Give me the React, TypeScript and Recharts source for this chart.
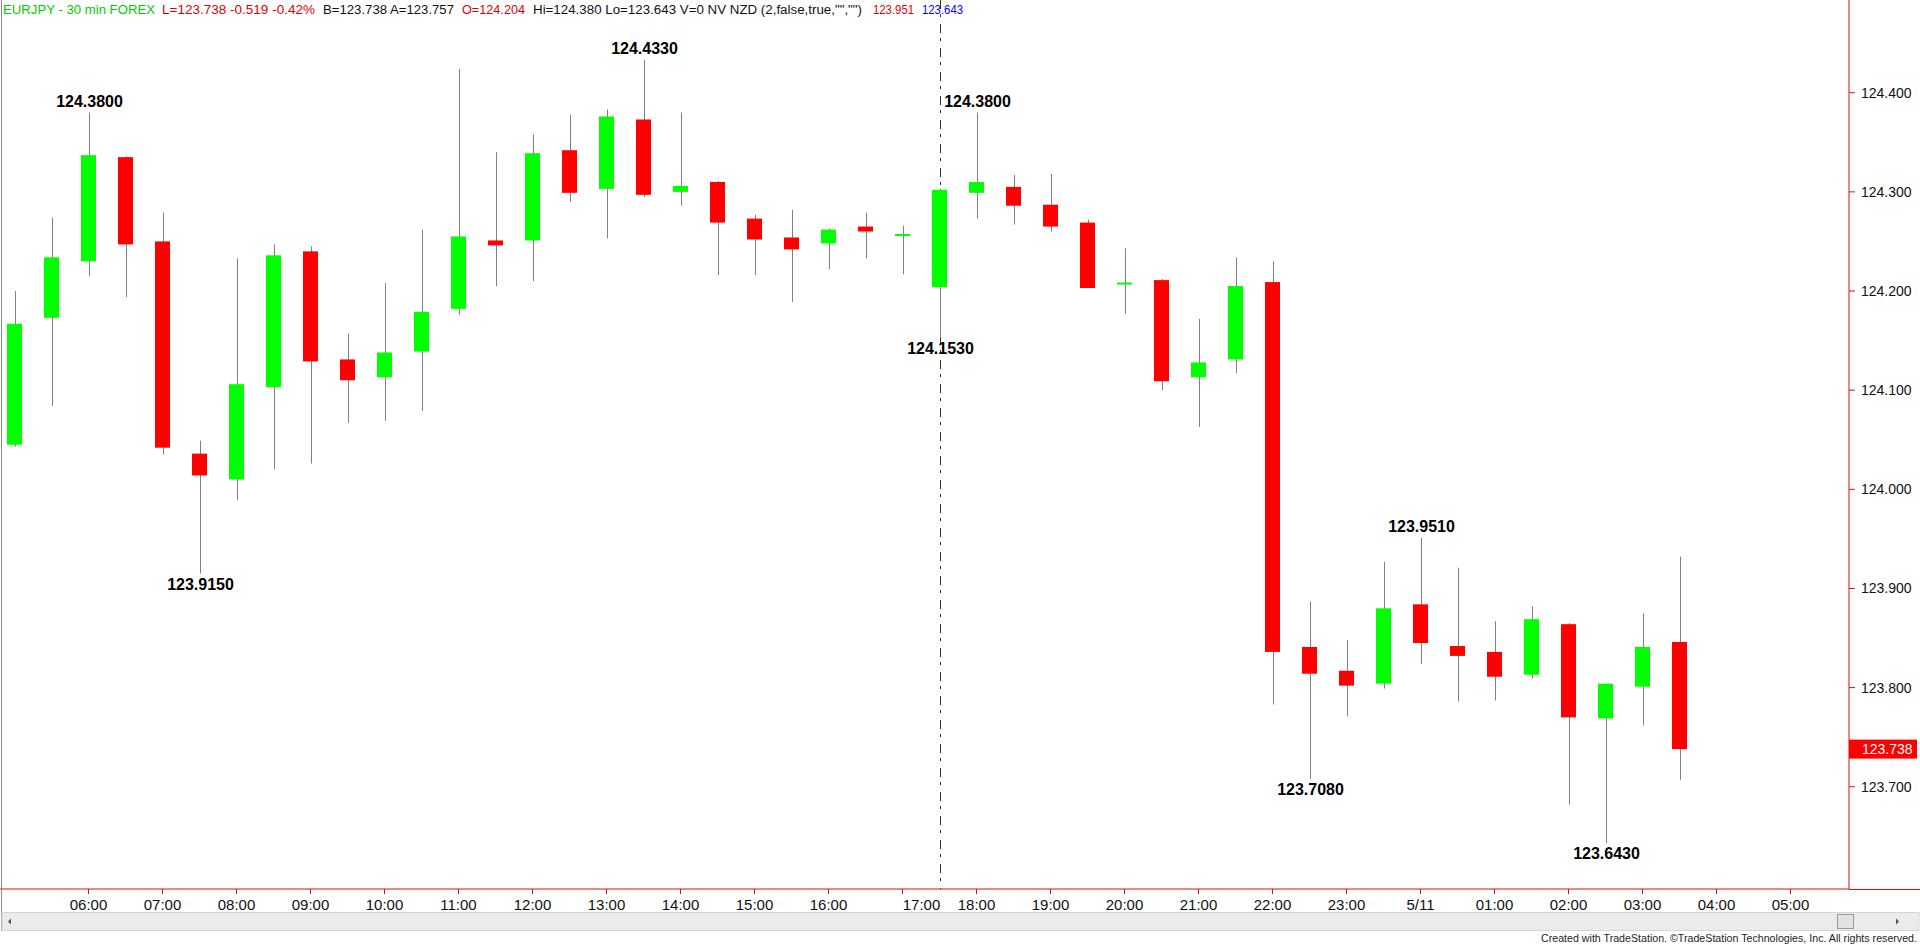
import React from "react";
import { BarChart, Bar, XAxis, YAxis } from "recharts";

// 30 min bars, EURJPY
const times = [
  "05:00", "05:30", "06:00", "06:30", "07:00", "07:30", "08:00", "08:30",
  "09:00", "09:30", "10:00", "10:30", "11:00", "11:30", "12:00", "12:30",
  "13:00", "13:30", "14:00", "14:30", "15:00", "15:30", "16:00", "16:30",
  "17:00", "17:30", "18:00", "18:30", "19:00", "19:30", "20:00", "20:30",
  "21:00", "21:30", "22:00", "22:30", "23:00", "23:30", "00:00", "00:30",
  "01:00", "01:30", "02:00", "02:30", "03:00", "03:30",
];
const opens = [
  124.045, 124.173, 124.23, 124.335, 124.25, 124.036, 124.01, 124.103,
  124.24, 124.131, 124.113, 124.139, 124.182, 124.251, 124.251, 124.342,
  124.303, 124.373, 124.3, 124.31, 124.273, 124.254, 124.248, 124.265,
  124.256, 124.204, 124.299, 124.305, 124.287, 124.269, 124.207, 124.211,
  124.113, 124.131, 124.209, 123.841, 123.817, 123.804, 123.884, 123.842,
  123.836, 123.813, 123.864, 123.769, 123.801, 123.846,
];
const highs = [
  124.2, 124.274, 124.38, 124.336, 124.279, 124.049, 124.233, 124.247,
  124.245, 124.157, 124.208, 124.262, 124.424, 124.34, 124.358, 124.378,
  124.383, 124.433, 124.38, 124.311, 124.277, 124.282, 124.263, 124.279,
  124.266, 124.303, 124.38, 124.317, 124.318, 124.272, 124.243, 124.212,
  124.172, 124.234, 124.23, 123.887, 123.848, 123.927, 123.951, 123.921,
  123.867, 123.882, 123.865, 123.804, 123.875, 123.932,
];
const lows = [
  124.043, 124.084, 124.215, 124.194, 124.035, 123.915, 123.989, 124.02,
  124.026, 124.067, 124.069, 124.079, 124.176, 124.205, 124.21, 124.29,
  124.253, 124.295, 124.286, 124.216, 124.216, 124.189, 124.222, 124.233,
  124.217, 124.153, 124.273, 124.267, 124.26, 124.203, 124.177, 124.1,
  124.063, 124.117, 123.783, 123.708, 123.771, 123.799, 123.824, 123.786,
  123.787, 123.809, 123.682, 123.643, 123.762, 123.707,
];
const closes = [
  124.167, 124.234, 124.337, 124.247, 124.042, 124.014, 124.106, 124.236,
  124.129, 124.11, 124.138, 124.179, 124.255, 124.246, 124.339, 124.299,
  124.376, 124.297, 124.306, 124.269, 124.252, 124.242, 124.262, 124.26,
  124.257, 124.302, 124.31, 124.286, 124.265, 124.203, 124.208, 124.109,
  124.128, 124.205, 123.836, 123.814, 123.802, 123.88, 123.845, 123.832,
  123.811, 123.869, 123.77, 123.804, 123.841, 123.738,
];
const futureSlots = ["04:00", "04:30", "05:00", "05:30"];

const hourLabels = [
  "06:00", "07:00", "08:00", "09:00", "10:00", "11:00", "12:00", "13:00",
  "14:00", "15:00", "16:00", "17:00", "18:00", "19:00", "20:00", "21:00",
  "22:00", "23:00", "5/11", "01:00", "02:00", "03:00", "04:00", "05:00",
];
const priceTicks = [123.7, 123.8, 123.9, 124.0, 124.1, 124.2, 124.3, 124.4];
const lastClose = 123.738;
const sessionBreakSlot = 25;

// swing highs / lows printed on the chart
const markedHighs = [2, 17, 26, 38];
const markedLows = [5, 25, 35, 43];

const UP = "#00ff00";
const DOWN = "#ff0000";
const WICK = "#808080";
const AXIS = "#d01010";
const FONT = '"Liberation Sans", Arial, Helvetica, sans-serif';
const NARROW = '"Liberation Sans Narrow", "Arial Narrow", "Liberation Sans", Arial, sans-serif';

const PLOT_TOP = 0;
const PLOT_BOTTOM = 889;

const data = [...times, ...futureSlots].map((time, i) =>
  i < times.length
    ? {
        slot: i,
        time,
        open: opens[i],
        high: highs[i],
        low: lows[i],
        close: closes[i],
        range: [lows[i], highs[i]],
      }
    : { slot: i, time }
);

const Candle = (props: any) => {
  const { x, y, width, height, payload } = props;
  if (!payload || payload.open == null || !isFinite(y) || !isFinite(height)) return <g />;
  const { open, high, low, close, slot } = payload;
  const top = Math.min(y, y + height);
  const h = Math.abs(height);
  const ppu = h / (high - low);
  const yOf = (v: number) => top + (high - v) * ppu;
  const cx = Math.round(x + width / 2) + 0.5;
  const bodyTop = yOf(Math.max(open, close));
  const bodyBot = yOf(Math.min(open, close));
  const color = close >= open ? UP : DOWN;
  const thin = bodyBot - bodyTop < 2;
  return (
    <g>
      {slot === sessionBreakSlot && (
        <line x1={cx} x2={cx} y1={PLOT_TOP} y2={PLOT_BOTTOM} stroke="#333" strokeDasharray="9 5 3 7" />
      )}
      <line x1={cx} x2={cx} y1={top} y2={top + h} stroke={WICK} strokeWidth={1} />
      <rect
        x={x}
        y={thin ? (bodyTop + bodyBot) / 2 - 1 : bodyTop}
        width={width}
        height={thin ? 2 : bodyBot - bodyTop}
        fill={color}
      />
      {markedHighs.includes(slot) && (
        <text x={cx} y={top - 6} textAnchor="middle" fontFamily={FONT} fontWeight="bold" fontSize={16} fill="#000">
          {high.toFixed(4)}
        </text>
      )}
      {markedLows.includes(slot) && (
        <text x={cx} y={top + h + 16} textAnchor="middle" fontFamily={FONT} fontWeight="bold" fontSize={16} fill="#000">
          {low.toFixed(4)}
        </text>
      )}
    </g>
  );
};

const XTick = (props: any) => {
  const { x, y, payload } = props;
  const slot = Number(payload.value);
  if (slot < 2 || slot % 2 !== 0) return <g />;
  const label = hourLabels[(slot - 2) / 2];
  if (!label) return <g />;
  // TradeStation pushes the session-open label next to the break line
  const shift = label === "17:00" ? 19 : 0;
  return (
    <g>
      <line x1={x} x2={x} y1={y} y2={y + 5} stroke={AXIS} />
      <text x={x + shift} y={y + 21} textAnchor="middle" fontFamily={FONT} fontSize={15} fill="#111">
        {label}
      </text>
    </g>
  );
};

const YTick = (props: any) => {
  const { x, y, payload } = props;
  const v = Number(payload.value);
  if (v === lastClose) {
    return (
      <g>
        <rect x={x} y={y - 9.5} width={68} height={19} fill="#ff0000" />
        <text x={x + 13} y={y + 5} fontFamily={FONT} fontSize={14} fill="#fff">
          {v.toFixed(3)}
        </text>
      </g>
    );
  }
  return (
    <g>
      <line x1={x} x2={x + 6} y1={y} y2={y} stroke={AXIS} />
      <text x={x + 12} y={y + 5} fontFamily={FONT} fontSize={14} fill="#111">
        {v.toFixed(3)}
      </text>
    </g>
  );
};

const Header = () => (
  <g fontFamily={NARROW} fontSize={13.5}>
    <text x={3} y={14} fill="#00cc00" textLength={152} lengthAdjust="spacingAndGlyphs">EURJPY - 30 min FOREX</text>
    <text x={162} y={14} fill="#e00000" textLength={153} lengthAdjust="spacingAndGlyphs">L=123.738 -0.519 -0.42%</text>
    <text x={323} y={14} fill="#111" textLength={131} lengthAdjust="spacingAndGlyphs">B=123.738 A=123.757</text>
    <text x={462} y={14} fill="#e00000" textLength={63} lengthAdjust="spacingAndGlyphs">O=124.204</text>
    <text x={533} y={14} fill="#111" fontSize={12} textLength={329} lengthAdjust="spacingAndGlyphs">Hi=124.380 Lo=123.643 V=0 NV NZD (2,false,true,"","")</text>
    <text x={873} y={14} fill="#e00000" textLength={41} lengthAdjust="spacingAndGlyphs">123.951</text>
    <text x={922} y={14} fill="#0000ff" textLength={41} lengthAdjust="spacingAndGlyphs">123.643</text>
  </g>
);

const Frame = () => (
  <svg width={1920} height={945} style={{ position: "absolute", left: 0, top: 0, pointerEvents: "none" }}>
    <line x1={1.5} x2={1.5} y1={0} y2={931} stroke="#8a8a8a" />
    <line x1={1849} x2={1920} y1={889.5} y2={889.5} stroke={AXIS} />
    <Header />
    <rect x={2} y={912.5} width={1917} height={18} fill="#ebebeb" stroke="#d6d6d6" />
    <polygon points="8,921.5 11,918.5 11,924.5" fill="#555" />
    <rect x={1837.5} y={914.5} width={16} height={14} fill="#e2e2e2" stroke="#9a9a9a" />
    <polygon points="1899,921.5 1896,918.5 1896,924.5" fill="#555" />
    <text x={1541} y={942} fontFamily={NARROW} fontSize={10.5} fill="#222" textLength={376} lengthAdjust="spacingAndGlyphs">
      Created with TradeStation. ©TradeStation Technologies, Inc. All rights reserved.
    </text>
  </svg>
);

export default function App() {
  return (
    <div style={{ position: "absolute", left: 0, top: 0, width: 1920, height: 945, background: "#fff" }}>
      <BarChart
        width={1920}
        height={945}
        data={data}
        margin={{ top: 0, right: 0, bottom: 0, left: -4 }}
        barSize={15}
      >
        <XAxis
          dataKey="slot"
          type="category"
          height={56}
          interval={0}
          tickSize={0}
          tickMargin={0}
          tickLine={false}
          tick={XTick}
          padding={{ left: 0, right: 3 }}
          axisLine={{ stroke: AXIS }}
        />
        <YAxis
          orientation="right"
          width={71}
          type="number"
          domain={[123.5969, 124.4935]}
          allowDataOverflow
          ticks={[...priceTicks, lastClose]}
          interval={0}
          tickSize={0}
          tickMargin={0}
          tickLine={false}
          tick={YTick}
          axisLine={{ stroke: AXIS }}
        />
        <Bar dataKey="range" shape={Candle} isAnimationActive={false} />
      </BarChart>
      <Frame />
    </div>
  );
}
